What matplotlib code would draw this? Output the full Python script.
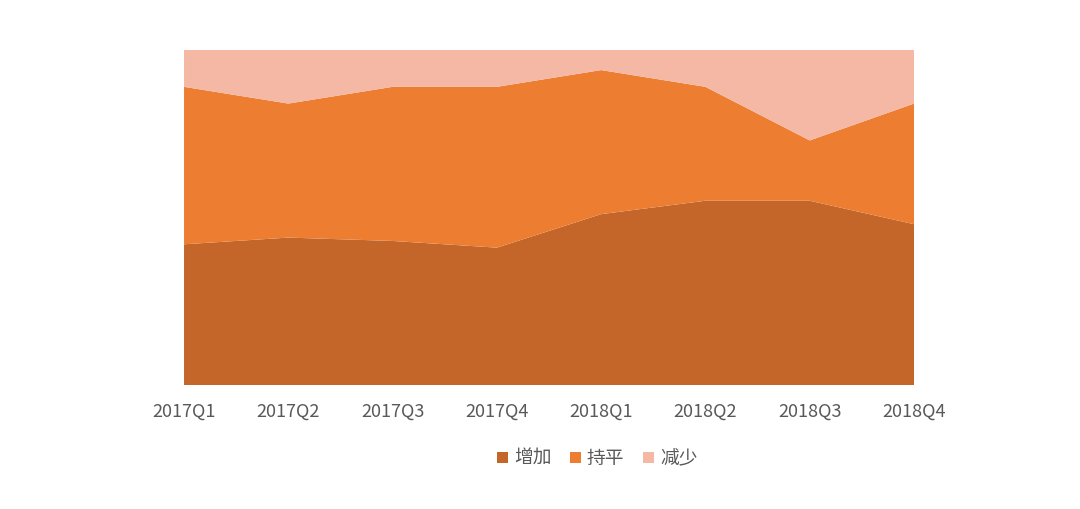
import numpy as np
import matplotlib.pyplot as plt

plt.rcParams['font.family'] = ['Noto Sans CJK SC', 'DejaVu Sans']

quarters = ['2017Q1', '2017Q2', '2017Q3', '2017Q4', '2018Q1', '2018Q2', '2018Q3', '2018Q4']
increase = [42, 44, 43, 41, 51, 55, 55, 48]
flat = [47, 40, 46, 48, 43, 34, 18, 36]
decrease = [11, 16, 11, 11, 6, 11, 27, 16]
labels = ['增加', '持平', '减少']
colors = ['#C4652A', '#ED7D31', '#F4B8A4']

fig = plt.figure(figsize=(10.8, 5.09), dpi=100)
ax = fig.add_axes([0.1704, 0.2436, 0.6759, 0.6582])

x = np.arange(len(quarters))
ax.stackplot(x, increase, flat, decrease, labels=labels, colors=colors, linewidth=0)

ax.set_xlim(0, len(quarters) - 1)
ax.set_ylim(0, 100)
ax.set_xticks(x)
ax.set_xticklabels(quarters, fontsize=13, color='#595959')
ax.tick_params(axis='x', length=0, pad=13)
ax.set_yticks([])
for s in ax.spines.values():
    s.set_visible(False)

# legend below the tick labels
ax.legend(loc='upper center', bbox_to_anchor=(0.566, -0.138), ncol=3, frameon=False,
          fontsize=13.5, labelcolor='#595959', handlelength=0.6, handleheight=0.6,
          handletextpad=0.3, columnspacing=1.0)

fig.savefig('out.png', dpi=100)
